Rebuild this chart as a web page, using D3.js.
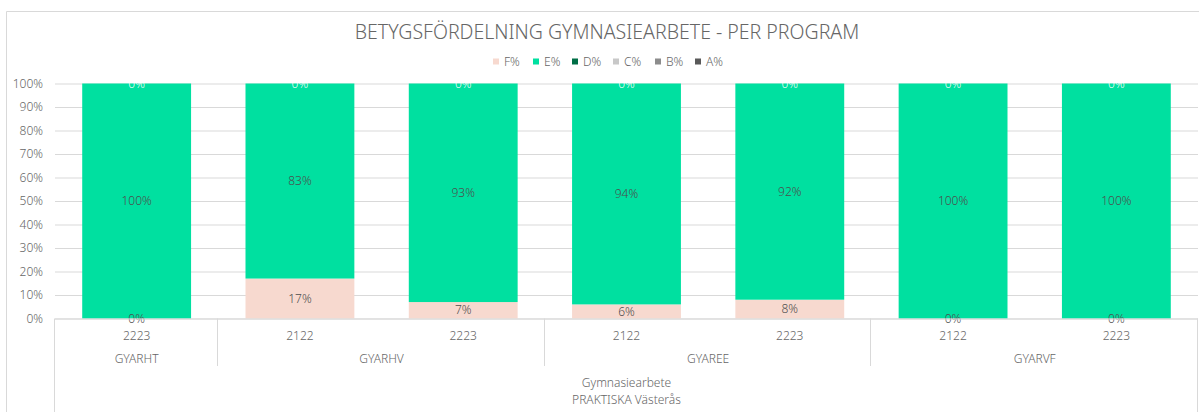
<!DOCTYPE html>
<html>
<head>
<meta charset="utf-8">
<script src="https://cdn.jsdelivr.net/npm/d3@7"></script>
<style>
  body { margin: 0; background: #fff; }
  svg { display: block; font-family: "Noto Sans", sans-serif; font-weight: 300; }
</style>
</head>
<body>
<svg id="chart" width="1199" height="412"></svg>
<script>
// data
var programs = ["GYARHT", "GYARHV", "GYARHV", "GYAREE", "GYAREE", "GYARVF", "GYARVF"];
var years = ["2223", "2122", "2223", "2122", "2223", "2122", "2223"];
var seriesNames = ["F%", "E%", "D%", "C%", "B%", "A%"];
var fValues = [0, 17, 7, 6, 8, 0, 0];
var eValues = [100, 83, 93, 94, 92, 100, 100];
var dValues = [0, 0, 0, 0, 0, 0, 0];
var cValues = [0, 0, 0, 0, 0, 0, 0];
var bValues = [0, 0, 0, 0, 0, 0, 0];
var aValues = [0, 0, 0, 0, 0, 0, 0];
var yTicks = [0, 10, 20, 30, 40, 50, 60, 70, 80, 90, 100];
var axisTitle = "Gymnasiearbete";
var schoolTitle = "PRAKTISKA Västerås";
var chartTitle = "BETYGSFÖRDELNING GYMNASIEARBETE - PER PROGRAM";

var seriesColors = ["#f7d9cf", "#00e0a0", "#006e46", "#c8c8c8", "#8c8c8c", "#595959"];
var labelColors = ["#4d4d4d", "#4d4d4d", "#ffffff", "#ffffff", "#ffffff", "#ffffff"];
var textGray = "#666666";

var svg = d3.select("#chart"),
    plotLeft = 55,
    plotRight = 1198,
    plotTop = 83.5,
    plotBottom = 318.5;

var seriesValues = [fValues, eValues, dValues, cValues, bValues, aValues];
var rows = programs.map(function (p, i) {
    var r = { key: i, program: p, year: years[i] };
    seriesNames.forEach(function (s, j) { r[s] = seriesValues[j][i]; });
    return r;
});

var x = d3.scaleBand()
    .domain(rows.map(function (d) { return d.key; }))
    .range([plotLeft, plotRight])
    .paddingInner(1 / 3)
    .paddingOuter(1 / 6);

var y = d3.scaleLinear().domain([0, 100]).range([plotBottom, plotTop]);
var color = d3.scaleOrdinal().domain(seriesNames).range(seriesColors);

// outer chart border
svg.append("path")
    .attr("d", "M6.5,412V11.5H1199")
    .attr("fill", "none")
    .attr("stroke", "#d9d9d9");

// title
svg.append("text")
    .attr("x", 607)
    .attr("y", 39)
    .attr("text-anchor", "middle")
    .attr("font-size", 19.5)
    .attr("fill", textGray)
    .text(chartTitle);

// legend
var legendX = [496, 536, 575, 616, 658, 698];
var legend = svg.append("g")
    .selectAll("g")
    .data(seriesNames)
    .enter().append("g")
    .attr("transform", function (d, i) { return "translate(" + legendX[i] + ",61.5)"; });

legend.append("rect")
    .attr("x", -3)
    .attr("y", -3)
    .attr("width", 6)
    .attr("height", 6)
    .attr("fill", color);

legend.append("text")
    .attr("x", 8)
    .attr("dy", "0.35em")
    .attr("font-size", 12)
    .attr("fill", textGray)
    .text(function (d) { return d; });

// gridlines + y labels
var yAxis = svg.append("g")
    .attr("transform", "translate(" + plotLeft + ",0)")
    .call(d3.axisLeft(y).tickValues(yTicks).tickSize(-(plotRight - plotLeft)).tickPadding(12)
        .tickFormat(function (d) { return d + "%"; }));
yAxis.select(".domain").remove();
yAxis.selectAll(".tick line").attr("stroke", "#d9d9d9");
yAxis.selectAll(".tick text")
    .attr("fill", textGray)
    .attr("font-size", 12)
    .attr("font-family", "Noto Sans, sans-serif");

// stacked bars
var stacked = d3.stack().keys(seriesNames)(rows);

var layers = svg.append("g")
    .selectAll("g")
    .data(stacked)
    .enter().append("g")
    .attr("fill", function (d) { return color(d.key); });

layers.selectAll("rect")
    .data(function (d) { return d; })
    .enter().append("rect")
    .attr("x", function (d) { return x(d.data.key); })
    .attr("y", function (d) { return y(d[1]); })
    .attr("width", x.bandwidth())
    .attr("height", function (d) { return y(d[0]) - y(d[1]); });

// data labels
var labelLayers = svg.append("g")
    .selectAll("g")
    .data(stacked.slice().reverse())
    .enter().append("g")
    .attr("fill", function (d) { return labelColors[seriesNames.indexOf(d.key)]; })
    .attr("fill-opacity", function (d) { return labelColors[seriesNames.indexOf(d.key)] === "#ffffff" ? 0.35 : 1; });

labelLayers.selectAll("text")
    .data(function (d) { return d.map(function (v) { return { v: v, key: d.key }; }); })
    .enter().append("text")
    .attr("x", function (d) { return x(d.v.data.key) + x.bandwidth() / 2; })
    .attr("y", function (d) { return y((d.v[0] + d.v[1]) / 2); })
    .attr("dy", "0.35em")
    .attr("text-anchor", "middle")
    .attr("font-size", 12)
    .text(function (d) { return d.v.data[d.key] + "%"; });

// category axis box
var axisG = svg.append("g").attr("stroke", "#d9d9d9").attr("fill", "none");
axisG.append("line")
    .attr("x1", plotLeft).attr("x2", plotRight)
    .attr("y1", plotBottom + 0.5).attr("y2", plotBottom + 0.5);
axisG.append("line")
    .attr("x1", plotLeft - 0.5).attr("x2", plotLeft - 0.5)
    .attr("y1", plotBottom).attr("y2", 412);
axisG.append("line")
    .attr("x1", plotRight - 0.5).attr("x2", plotRight - 0.5)
    .attr("y1", plotBottom).attr("y2", 412);

// program groups
var groups = [];
rows.forEach(function (r) {
    var last = groups[groups.length - 1];
    if (last && last.program === r.program) last.keys.push(r.key);
    else groups.push({ program: r.program, keys: [r.key] });
});
var step = x.step();
groups.forEach(function (g) {
    g.x0 = x(g.keys[0]) - (step - x.bandwidth()) / 2;
    g.x1 = x(g.keys[g.keys.length - 1]) + x.bandwidth() + (step - x.bandwidth()) / 2;
});

axisG.selectAll(".sep")
    .data(groups.slice(1))
    .enter().append("line")
    .attr("x1", function (d) { return Math.round(d.x0) - 0.5; })
    .attr("x2", function (d) { return Math.round(d.x0) - 0.5; })
    .attr("y1", plotBottom)
    .attr("y2", 366);

svg.append("g")
    .selectAll("text")
    .data(rows)
    .enter().append("text")
    .attr("x", function (d) { return x(d.key) + x.bandwidth() / 2; })
    .attr("y", 339.5)
    .attr("text-anchor", "middle")
    .attr("font-size", 12)
    .attr("fill", textGray)
    .text(function (d) { return d.year; });

svg.append("g")
    .selectAll("text")
    .data(groups)
    .enter().append("text")
    .attr("x", function (d) { return (d.x0 + d.x1) / 2; })
    .attr("y", 362.5)
    .attr("text-anchor", "middle")
    .attr("font-size", 12)
    .attr("fill", textGray)
    .text(function (d) { return d.program; });

svg.append("text")
    .attr("x", (plotLeft + plotRight) / 2)
    .attr("y", 387)
    .attr("text-anchor", "middle")
    .attr("font-size", 12)
    .attr("fill", textGray)
    .text(axisTitle);

svg.append("text")
    .attr("x", (plotLeft + plotRight) / 2)
    .attr("y", 403.5)
    .attr("text-anchor", "middle")
    .attr("font-size", 12)
    .attr("fill", textGray)
    .text(schoolTitle);
</script>
</body>
</html>
